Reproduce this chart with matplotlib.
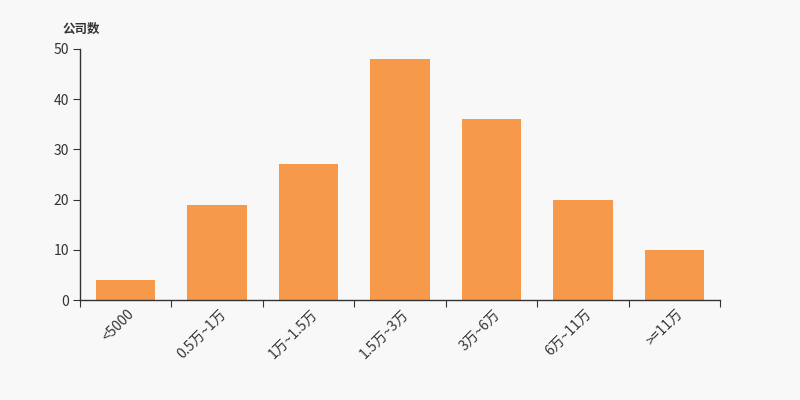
import matplotlib
matplotlib.use("Agg")
import matplotlib.pyplot as plt
import numpy as np

plt.rcParams['font.family'] = ['Noto Sans CJK SC', 'DejaVu Sans']

categories = ['<5000', '0.5万~1万', '1万~1.5万', '1.5万~3万', '3万~6万', '6万~11万', '>=11万']
counts = [4, 19, 27, 48, 36, 20, 10]
y_ticks = [0, 10, 20, 30, 40, 50]

bg = '#f8f8f8'
bar_color = '#f7994a'
text_color = '#333333'

fig = plt.figure(figsize=(8, 4), dpi=100, facecolor=bg)
ax = fig.add_axes([0.1, 0.25, 0.8, 0.6275], facecolor=bg)

x = np.arange(len(categories))
ax.bar(x, counts, width=0.65, color=bar_color)

ax.set_xlim(-0.5, len(categories) - 0.5)
ax.set_ylim(0, 50)
ax.set_yticks(y_ticks)
ax.tick_params(axis='y', length=5, colors=text_color, labelsize=10, pad=3)

# ticks on category boundaries, labels at centers
ax.set_xticks(np.arange(len(categories) + 1) - 0.5)
ax.set_xticklabels([])
ax.tick_params(axis='x', length=5, color=text_color)
for i, lab in enumerate(categories):
    ax.text(i + 0.02, -1.4, lab, rotation=45, ha='right', va='top',
            rotation_mode='anchor', fontsize=10, color=text_color)

for s in ['top', 'right']:
    ax.spines[s].set_visible(False)
for s in ['left', 'bottom']:
    ax.spines[s].set_color(text_color)
    ax.spines[s].set_linewidth(1)

fig.text(0.078, 0.918, '公司数', fontsize=9, fontweight='bold', color=text_color)

fig.savefig('out.png', dpi=100, facecolor=bg)
